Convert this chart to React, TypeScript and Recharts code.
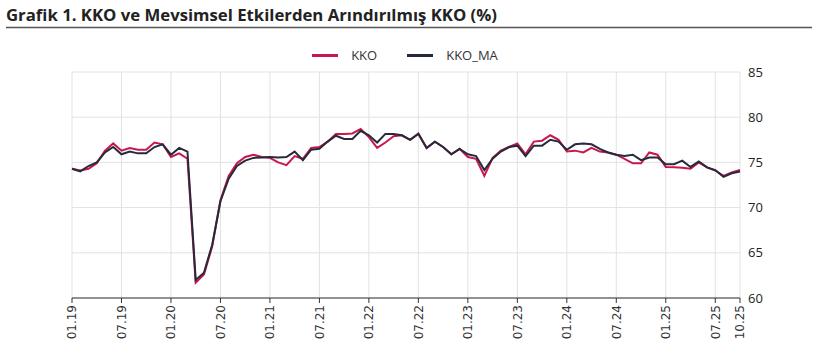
import React from "react";
import { LineChart, Line, XAxis, YAxis, CartesianGrid, Legend } from "recharts";

const months = [
  "01.19","02.19","03.19","04.19","05.19","06.19","07.19","08.19","09.19","10.19","11.19","12.19",
  "01.20","02.20","03.20","04.20","05.20","06.20","07.20","08.20","09.20","10.20","11.20","12.20",
  "01.21","02.21","03.21","04.21","05.21","06.21","07.21","08.21","09.21","10.21","11.21","12.21",
  "01.22","02.22","03.22","04.22","05.22","06.22","07.22","08.22","09.22","10.22","11.22","12.22",
  "01.23","02.23","03.23","04.23","05.23","06.23","07.23","08.23","09.23","10.23","11.23","12.23",
  "01.24","02.24","03.24","04.24","05.24","06.24","07.24","08.24","09.24","10.24","11.24","12.24",
  "01.25","02.25","03.25","04.25","05.25","06.25","07.25","08.25","09.25","10.25",
];

const kko = [
  74.3, 74.1, 74.3, 74.9, 76.3, 77.1, 76.3, 76.6, 76.4, 76.4, 77.2, 77.0,
  75.6, 76.0, 75.4, 61.7, 62.6, 65.7, 70.8, 73.5, 74.9, 75.6, 75.85, 75.6,
  75.5, 75.0, 74.7, 75.7, 75.4, 76.6, 76.7, 77.3, 78.15, 78.15, 78.2, 78.7,
  77.8, 76.6, 77.2, 77.9, 78.0, 77.5, 78.2, 76.6, 77.3, 76.7, 75.9, 76.5,
  75.6, 75.4, 73.5, 75.5, 76.3, 76.7, 77.1, 75.9, 77.3, 77.4, 78.0, 77.5,
  76.2, 76.3, 76.1, 76.6, 76.2, 76.1, 75.85, 75.4, 74.9, 74.9, 76.1, 75.85,
  74.5, 74.45, 74.4, 74.3, 75.0, 74.45, 74.1, 73.5, 73.9, 74.15,
];

const kkoMa = [
  74.3, 74.0, 74.6, 75.0, 76.1, 76.7, 75.9, 76.2, 76.0, 76.0, 76.7, 77.0,
  75.85, 76.6, 76.2, 62.0, 62.8, 65.9, 70.7, 73.2, 74.6, 75.2, 75.5, 75.55,
  75.6, 75.55, 75.6, 76.2, 75.25, 76.4, 76.5, 77.3, 77.95, 77.6, 77.6, 78.5,
  78.0, 77.2, 78.15, 78.15, 78.0, 77.5, 78.15, 76.6, 77.3, 76.7, 75.9, 76.5,
  75.9, 75.7, 74.15, 75.4, 76.2, 76.7, 76.85, 75.7, 76.85, 76.85, 77.5, 77.3,
  76.4, 77.0, 77.1, 77.0, 76.5, 76.1, 75.85, 75.7, 75.85, 75.25, 75.55, 75.55,
  74.8, 74.8, 75.2, 74.5, 75.1, 74.45, 74.15, 73.4, 73.8, 74.0,
];

const xTicks = ["01.19","07.19","01.20","07.20","01.21","07.21","01.22","07.22","01.23","07.23","01.24","07.24","01.25","07.25","10.25"];
const yTicks = [60, 65, 70, 75, 80, 85];

const title = "Grafik 1. KKO ve Mevsimsel Etkilerden Arındırılmış KKO (%)";
const KKO_COLOR = "#c8174f";
const MA_COLOR = "#262a3b";

const data = months.map((m, i) => ({ month: m, KKO: kko[i], KKO_MA: kkoMa[i] }));

const XTick = (props: any) => {
  const { x, y, payload } = props;
  return (
    <g transform={`translate(${x},${y})`}>
      <text
        x={0}
        y={0}
        dy="0.36em"
        textAnchor="end"
        transform="rotate(-90)"
        fontFamily="DejaVu Sans"
        fontSize={12}
        fill="#333"
      >
        {payload.value}
      </text>
    </g>
  );
};

const LegendContent = (props: any) => {
  const items = props.payload || [];
  return (
    <div style={{ display: "flex", justifyContent: "center", alignItems: "center", fontFamily: "Open Sans", fontSize: 13, color: "#333", paddingRight: 10, height: 18 }}>
      {items.map((it: any, idx: number) => (
        <div key={idx} style={{ display: "flex", alignItems: "center", marginLeft: idx ? 30 : 0 }}>
          <div style={{ width: 26, height: 3, background: it.color, marginRight: 13 }} />
          <span>{it.value}</span>
        </div>
      ))}
    </div>
  );
};

export default function App() {
  return (
    <div style={{ position: "absolute", left: 0, top: 0, width: 820, height: 360, background: "#fff" }}>
      <svg width={820} height={40} style={{ position: "absolute", left: 0, top: 0 }}>
        <text x={6} y={21} fontFamily="Open Sans" fontWeight={700} fontSize={16} fill="#222" textLength={491} lengthAdjust="spacingAndGlyphs">
          {title}
        </text>
        <line x1={6} x2={812} y1={27.5} y2={27.5} stroke="#555" strokeWidth={1.5} />
      </svg>
      <div style={{ position: "absolute", left: 0, top: 0 }}>
        <LineChart width={820} height={360} data={data} margin={{ top: 54, right: 40, bottom: 12, left: 72 }}>
          <CartesianGrid stroke="#e2e2e2" strokeWidth={1} />
          <XAxis
            dataKey="month"
            ticks={xTicks}
            interval={0}
            tick={<XTick />}
            tickLine={{ stroke: "#333" }}
            tickSize={5}
            axisLine={{ stroke: "#333", strokeWidth: 1.2 }}
            height={50}
          />
          <YAxis
            orientation="right"
            domain={[60, 85]}
            ticks={yTicks}
            axisLine={false}
            tickLine={false}
            width={40}
            tick={{ fontFamily: "Open Sans", fontSize: 13, fill: "#222" }}
          />
          <Legend verticalAlign="top" content={<LegendContent />} wrapperStyle={{ top: 46, left: 0, width: 820 }} />
          <Line type="linear" dataKey="KKO" stroke={KKO_COLOR} strokeWidth={2} dot={false} isAnimationActive={false} />
          <Line type="linear" dataKey="KKO_MA" stroke={MA_COLOR} strokeWidth={2} dot={false} isAnimationActive={false} />
        </LineChart>
      </div>
    </div>
  );
}
